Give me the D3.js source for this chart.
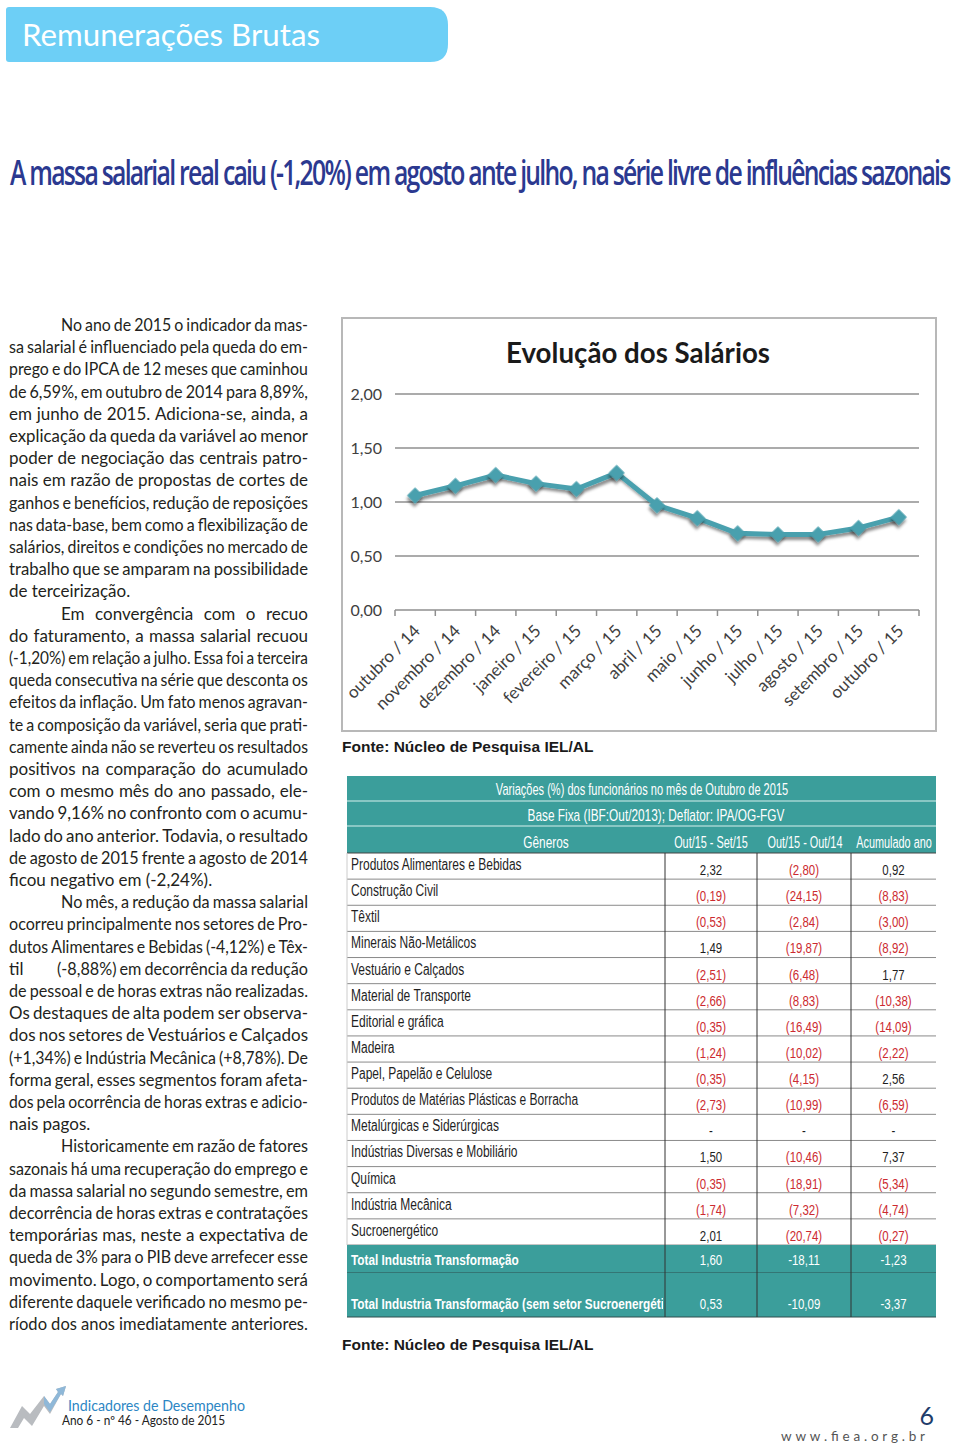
<!DOCTYPE html>
<html><head><meta charset="utf-8">
<script src="https://cdn.jsdelivr.net/npm/d3@7"></script>
<style>body{margin:0;background:#fff}svg{display:block}</style>
</head><body><svg id="page" width="960" height="1450"></svg>
<script>
// ---------- DATA ----------
const months = ["outubro / 14","novembro / 14","dezembro / 14","janeiro / 15","fevereiro / 15","março / 15","abril / 15","maio / 15","junho / 15","julho / 15","agosto / 15","setembro / 15","outubro / 15"];
const salarios = [1.06,1.15,1.25,1.17,1.12,1.27,0.97,0.85,0.71,0.70,0.70,0.76,0.86];
const yTicks = [0,0.5,1,1.5,2];

const tableTitle = "Variações (%) dos funcionários no mês de Outubro de 2015";
const tableSubtitle = "Base Fixa (IBF:Out/2013); Deflator: IPA/OG-FGV";
const colHeaders = ["Gêneros","Out/15 - Set/15","Out/15 - Out/14","Acumulado ano"];
const generos = ["Produtos Alimentares e Bebidas","Construção Civil","Têxtil","Minerais Não-Metálicos","Vestuário e Calçados","Material de Transporte","Editorial e gráfica","Madeira","Papel, Papelão e Celulose","Produtos de Matérias Plásticas e Borracha","Metalúrgicas e Siderúrgicas","Indústrias Diversas e Mobiliário","Química","Indústria Mecânica","Sucroenergético"];
const varMes = [2.32,-0.19,-0.53,1.49,-2.51,-2.66,-0.35,-1.24,-0.35,-2.73,null,1.50,-0.35,-1.74,2.01];
const varAno = [-2.80,-24.15,-2.84,-19.87,-6.48,-8.83,-16.49,-10.02,-4.15,-10.99,null,-10.46,-18.91,-7.32,-20.74];
const acumulado = [0.92,-8.83,-3.00,-8.92,1.77,-10.38,-14.09,-2.22,2.56,-6.59,null,7.37,-5.34,-4.74,-0.27];
const totais = ["Total Industria Transformação","Total Industria Transformação (sem setor Sucroenergético)"];
const totMes = [1.60,0.53];
const totAno = [-18.11,-10.09];
const totAcum = [-1.23,-3.37];

const bodyLines = [
 {t:"No ano de 2015 o indicador da mas-", ind:1},
 {t:"sa salarial é influenciado pela queda do em-"},
 {t:"prego e do IPCA de 12 meses que caminhou"},
 {t:"de 6,59%, em outubro de 2014 para 8,89%,"},
 {t:"em junho de 2015. Adiciona-se, ainda, a"},
 {t:"explicação da queda da variável ao menor"},
 {t:"poder de negociação das centrais patro-"},
 {t:"nais em razão de propostas de cortes de"},
 {t:"ganhos e benefícios, redução de reposições"},
 {t:"nas data-base, bem como a flexibilização de"},
 {t:"salários, direitos e condições no mercado de"},
 {t:"trabalho que se amparam na possibilidade"},
 {t:"de terceirização.", last:1},
 {t:"Em convergência com o recuo", ind:1},
 {t:"do faturamento, a massa salarial recuou"},
 {t:"(-1,20%) em relação a julho. Essa foi a terceira"},
 {t:"queda consecutiva na série que desconta os"},
 {t:"efeitos da inflação. Um fato menos agravan-"},
 {t:"te a composição da variável, seria que prati-"},
 {t:"camente ainda não se reverteu os resultados"},
 {t:"positivos na comparação do acumulado"},
 {t:"com o mesmo mês do ano passado, ele-"},
 {t:"vando 9,16% no confronto com o acumu-"},
 {t:"lado do ano anterior.  Todavia, o resultado"},
 {t:"de agosto de 2015 frente a agosto de 2014"},
 {t:"ficou negativo em (-2,24%).", last:1},
 {t:"No mês, a redução da massa salarial", ind:1},
 {t:"ocorreu principalmente nos setores de Pro-"},
 {t:"dutos Alimentares e Bebidas (-4,12%) e Têx-"},
 {t:"til\t(-8,88%) em decorrência da redução"},
 {t:"de pessoal e de horas extras não realizadas."},
 {t:"Os destaques de alta podem ser observa-"},
 {t:"dos nos setores de Vestuários e Calçados"},
 {t:"(+1,34%) e Indústria Mecânica (+8,78%). De"},
 {t:"forma geral, esses segmentos foram afeta-"},
 {t:"dos pela ocorrência de horas extras e adicio-"},
 {t:"nais pagos.", last:1},
 {t:"Historicamente em razão de fatores", ind:1},
 {t:"sazonais há uma recuperação do emprego e"},
 {t:"da massa salarial no segundo semestre, em"},
 {t:"decorrência de horas extras e contratações"},
 {t:"temporárias mas, neste a expectativa de"},
 {t:"queda de 3% para o PIB deve arrefecer esse"},
 {t:"movimento. Logo, o comportamento será"},
 {t:"diferente daquele verificado no mesmo pe-"},
 {t:"ríodo dos anos imediatamente anteriores.", last:1}
];

// ---------- PAGE ----------
const svg = d3.select("#page");
const defs = svg.append("defs");
const sh = defs.append("filter").attr("id","shadow").attr("x","-50%").attr("y","-50%").attr("width","200%").attr("height","200%");
sh.append("feDropShadow").attr("dx",2).attr("dy",3).attr("stdDeviation",1.8).attr("flood-color","#000").attr("flood-opacity",0.45);

// header band
svg.append("path")
  .attr("d","M6,10 Q6,7 9,7 L430,7 Q448,7 448,25 L448,44 Q448,62 430,62 L9,62 Q6,62 6,59 Z")
  .attr("fill","#6dcff6");
svg.append("text").attr("x",22).attr("y",46).attr("fill","#fff")
  .attr("font-family","Lato, 'Open Sans', sans-serif").attr("font-size",31)
  .attr("textLength",298).attr("lengthAdjust","spacingAndGlyphs")
  .text("Remunerações Brutas");

// headline (fit to 10..952 by horizontal scale)
const hl = svg.append("g");
const hlt = hl.append("text").attr("x",0).attr("y",0).attr("fill","#2b3990")
  .attr("font-family","'Open Sans', Lato, sans-serif").attr("font-size",34).attr("font-weight",600)
  .attr("letter-spacing",-2.4)
  .text("A massa salarial real caiu (-1,20%) em agosto ante julho, na série livre de influências sazonais");
const hlw = hlt.node().getComputedTextLength();
hl.attr("transform",`translate(10,185) scale(${940/hlw},1)`);

// ---------- BODY TEXT ----------
const body = svg.append("g").attr("font-family","Lato, 'Open Sans', sans-serif").attr("font-size",17).attr("fill","#231f20");
const colL = 9, colR = 308, indX = 61, lineY0 = 331, lineH = 22.2;
function drawLine(x0, x1, y, text, justify){
  const words = text.split(" ").filter(w => w.length);
  const g = body.append("g");
  const ts = words.map(w => g.append("text").attr("y",0).text(w));
  const widths = ts.map(t => t.node().getComputedTextLength());
  const W = d3.sum(widths), n = words.length - 1;
  const target = x1 - x0, spaceW = 4.2, minGap = 3.2;
  let s = 1, gap = spaceW;
  if (justify && n > 0){
    if (W + n*minGap > target) s = target/(W + n*minGap);
    gap = (target/s - W)/n;
  } else {
    if (W + n*spaceW > target) s = target/(W + n*spaceW);
  }
  let cx = 0;
  ts.forEach((t,i) => { t.attr("x",cx); cx += widths[i] + gap; });
  g.attr("transform",`translate(${x0},${y}) scale(${s},1)`);
}
bodyLines.forEach((L,i) => {
  const y = lineY0 + i*lineH;
  if (L.t.includes("\t")){
    const [a,b] = L.t.split("\t");
    drawLine(colL, colR, y, a, false);
    drawLine(57, colR, y, b, true);
  } else {
    drawLine(L.ind ? indX : colL, colR, y, L.t, !L.last);
  }
});

// ---------- CHART ----------
const ch = svg.append("g");
ch.append("rect").attr("x",342).attr("y",318).attr("width",594).attr("height",413)
  .attr("fill","#fff").attr("stroke","#b8b8b8").attr("stroke-width",2);
ch.append("text").attr("x",638).attr("y",363).attr("text-anchor","middle")
  .attr("font-family","Lato, 'Open Sans', sans-serif").attr("font-weight",700).attr("font-size",28)
  .attr("fill","#1a1a1a").attr("textLength",264).attr("lengthAdjust","spacingAndGlyphs")
  .text("Evolução dos Salários");

const x = d3.scaleBand().domain(months).range([395,919]);
const y = d3.scaleLinear().domain([0,2]).range([610,394]);
const cxp = m => x(m) + x.bandwidth()/2;

ch.selectAll("line.grid").data(yTicks).join("line").attr("class","grid")
  .attr("x1",395).attr("x2",919).attr("y1",d=>y(d)).attr("y2",d=>y(d))
  .attr("stroke","#8f8f8f").attr("stroke-width",1.5);
ch.selectAll("text.ylab").data(yTicks).join("text").attr("class","ylab")
  .attr("x",382).attr("y",d=>y(d)).attr("dy","0.35em").attr("text-anchor","end")
  .attr("font-family","Lato, 'Open Sans', sans-serif").attr("font-size",16).attr("fill","#404040")
  .text(d => d3.format(".2f")(d).replace(".",","));
const tickPos = months.map(m => x(m)).concat([x.range()[1]]);
ch.selectAll("line.xt").data(tickPos).join("line").attr("class","xt")
  .attr("x1",d=>d).attr("x2",d=>d).attr("y1",y(0)).attr("y2",y(0)+6)
  .attr("stroke","#8f8f8f").attr("stroke-width",1.5);
ch.selectAll("text.xlab").data(months).join("text").attr("class","xlab")
  .attr("transform",m=>`translate(${cxp(m)+6},${y(0)+22}) rotate(-45)`)
  .attr("text-anchor","end")
  .attr("font-family","Lato, 'Open Sans', sans-serif").attr("font-size",17).attr("fill","#404040")
  .text(m=>m);

const line = d3.line().x((d,i)=>cxp(months[i])).y(d=>y(d));
ch.append("path").datum(salarios).attr("d",line).attr("fill","none")
  .attr("stroke","#4aa0ae").attr("stroke-width",5).attr("stroke-linejoin","round")
  .attr("filter","url(#shadow)");
ch.selectAll("path.mk").data(salarios).join("path").attr("class","mk")
  .attr("d",d3.symbol().type(d3.symbolSquare).size(130))
  .attr("transform",(d,i)=>`translate(${cxp(months[i])},${y(d)}) rotate(45)`)
  .attr("fill","#4aa0ae").attr("filter","url(#shadow)");

const fonte = (yy) => svg.append("text").attr("x",342).attr("y",yy)
  .attr("font-family","'Liberation Sans', Arial, sans-serif").attr("font-weight",700).attr("font-size",15.5)
  .attr("fill","#1a1a1a").text("Fonte: Núcleo de Pesquisa IEL/AL");
fonte(752);
fonte(1350);

// ---------- TABLE ----------
const teal = "#3b9e9b";
const tb = svg.append("g");
const tL = 347, tR = 936, cols = [tL, 665, 757, 851, tR];
const cond = "'Liberation Sans', Arial, sans-serif";
const fmt = v => v == null ? "-" : (v < 0 ? "(" + d3.format(".2f")(-v) + ")" : d3.format(".2f")(v)).replace(".",",");
const fmtT = v => d3.format(".2f")(v).replace(".",",").replace("\u2212","-");
function ctext(g, xx, yy, t, opt){
  const s = opt.s || 0.76;
  const e = g.append("text").attr("transform",`translate(${xx},${yy}) scale(${s},1)`).attr("x",0).attr("y",0)
    .attr("font-family",cond).attr("font-size",opt.size || 15).attr("fill",opt.fill || "#1f1f1f")
    .attr("text-anchor",opt.anchor || "start").text(t);
  if (opt.bold) e.attr("font-weight",700);
  return e;
}

// header rows
const hdrY = [776, 801, 826, 853];
tb.append("rect").attr("x",tL).attr("y",hdrY[0]).attr("width",tR-tL).attr("height",hdrY[3]-hdrY[0]).attr("fill",teal);
[hdrY[1],hdrY[2]].forEach(yy => tb.append("line").attr("x1",tL).attr("x2",tR).attr("y1",yy).attr("y2",yy).attr("stroke","#d8efee").attr("stroke-width",1.2));
ctext(tb, 642, 795, tableTitle, {anchor:"middle", fill:"#fff", size:16, s:0.69});
ctext(tb, 656, 821, tableSubtitle, {anchor:"middle", fill:"#fff", size:16, s:0.74});
ctext(tb, 546, 848, colHeaders[0], {anchor:"middle", fill:"#fff", size:16, s:0.74});
ctext(tb, 711, 848, colHeaders[1], {anchor:"middle", fill:"#fff", size:16, s:0.68});
ctext(tb, 805, 848, colHeaders[2], {anchor:"middle", fill:"#fff", size:16, s:0.68});
ctext(tb, 894, 848, colHeaders[3], {anchor:"middle", fill:"#fff", size:16, s:0.68});

// data rows
const ry = d3.scaleBand().domain(d3.range(generos.length)).range([853,1245]);
const rh = ry.bandwidth();
tb.append("rect").attr("x",tL).attr("y",853).attr("width",tR-tL).attr("height",1245-853).attr("fill","#fff");
generos.forEach((g,i) => {
  const top = ry(i);
  ctext(tb, 351, top+17, g, {size:16, s:0.75});
  [varMes[i], varAno[i], acumulado[i]].forEach((v,j) => {
    ctext(tb, (cols[j+1]+cols[j+2])/2, top+22, fmt(v),
      {anchor:"middle", size:15.5, s:0.74, fill: v != null && v < 0 ? "#cc2a30" : "#1f1f1f"});
  });
  tb.append("line").attr("x1",tL).attr("x2",tR).attr("y1",top+rh).attr("y2",top+rh)
    .attr("stroke","#8a8a8a").attr("stroke-width",1);
});
tb.append("line").attr("x1",tL).attr("x2",tR).attr("y1",853).attr("y2",853).attr("stroke","#444").attr("stroke-width",1.2);
tb.append("line").attr("x1",tL).attr("x2",tL).attr("y1",853).attr("y2",1245).attr("stroke","#ccc");

// total rows
const totY = [[1245,1273],[1273,1317]];
defs.append("clipPath").attr("id","clipLab").append("rect").attr("x",tL).attr("y",1240).attr("width",cols[1]-tL-2).attr("height",90);
totais.forEach((t,i) => {
  const [a,b] = totY[i];
  tb.append("rect").attr("x",tL).attr("y",a).attr("width",tR-tL).attr("height",b-a).attr("fill",teal);
  tb.append("line").attr("x1",tL).attr("x2",tR).attr("y1",b).attr("y2",b).attr("stroke","#2f4f4f").attr("stroke-width",1);
  const lg = tb.append("g").attr("clip-path","url(#clipLab)");
  ctext(lg, 351, b-8, t, {size:15.5, s:0.76, fill:"#fff", bold:1});
  [totMes[i], totAno[i], totAcum[i]].forEach((v,j) => {
    ctext(tb, (cols[j+1]+cols[j+2])/2, b-8, fmtT(v), {anchor:"middle", size:15.5, s:0.74, fill:"#fff"});
  });
});
[cols[1],cols[2],cols[3]].forEach(cx => tb.append("line").attr("x1",cx).attr("x2",cx).attr("y1",853).attr("y2",1317)
  .attr("stroke","#333").attr("stroke-width",1));

// ---------- FOOTER ----------
const ft = svg.append("g");
ft.append("path").attr("d","M10,1428 L22,1406 L30,1414 L44,1396 L50,1404 L58,1392 L56,1389 L66,1386 L63,1396 L61,1394 L50,1414 L44,1406 L32,1426 L24,1418 L18,1428 Z")
  .attr("fill","#b9bcc0");
ft.append("path").attr("d","M44,1396 L50,1404 L58,1392 L56,1389 L66,1386 L63,1396 L61,1394 L50,1412 L44,1404 Z").attr("fill","#8fb8d8");
ft.append("text").attr("x",68).attr("y",1411).attr("font-family","Lato, 'Open Sans', sans-serif").attr("font-size",14.5)
  .attr("fill","#2c86c4").attr("textLength",177).attr("lengthAdjust","spacingAndGlyphs").text("Indicadores de Desempenho");
ft.append("text").attr("x",62).attr("y",1425).attr("font-family","Lato, 'Open Sans', sans-serif").attr("font-size",12.5)
  .attr("fill","#222").attr("textLength",163).attr("lengthAdjust","spacingAndGlyphs").text("Ano 6 - nº 46 - Agosto de 2015");
ft.append("text").attr("x",934).attr("y",1425).attr("text-anchor","end").attr("font-family","Lato, 'Open Sans', sans-serif")
  .attr("font-size",25).attr("fill","#1f3d6b").text("6");
ft.append("text").attr("x",781).attr("y",1441).attr("font-family","Lato, 'Open Sans', sans-serif").attr("font-size",13.5)
  .attr("fill","#555").attr("textLength",144).attr("lengthAdjust","spacing").text("www.fiea.org.br");
</script></body></html>
